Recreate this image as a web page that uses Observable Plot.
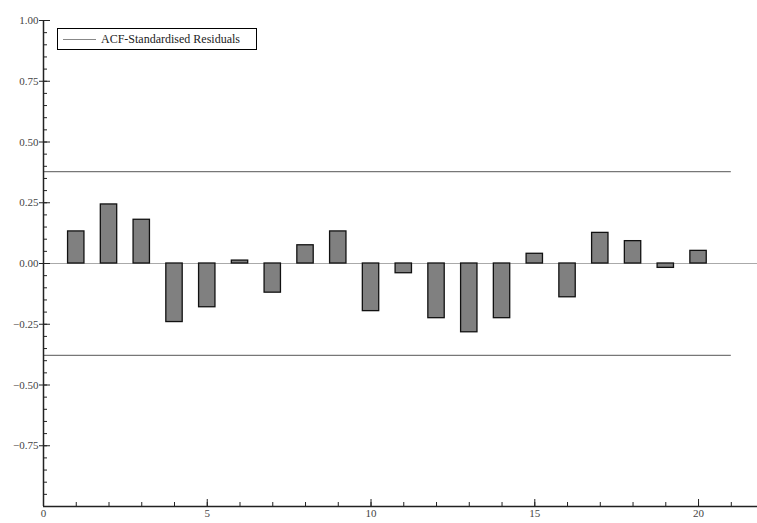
<!DOCTYPE html>
<html>
<head>
<meta charset="utf-8">
<script src="https://cdn.jsdelivr.net/npm/d3@7"></script>
<script src="https://cdn.jsdelivr.net/npm/@observablehq/plot@0.6"></script>
<style>
  html, body { margin: 0; padding: 0; background: #fff; }
  #wrap { position: relative; width: 757px; height: 523px; }
  #wrap svg, #wrap svg text { font-family: "Liberation Serif", "DejaVu Serif", serif !important; }
  #legend {
    position: absolute; left: 57px; top: 28px; width: 200px; height: 22px;
    box-sizing: border-box; border: 1px solid #000; background: #fff;
    font: 12px "Liberation Serif", "DejaVu Serif", serif; color: #222;
    display: flex; align-items: center;
  }
  #legend .sw { display: inline-block; width: 33px; height: 0; border-top: 1px solid #888; margin: 0 5px 0 5px; }
</style>
</head>
<body>
<div id="wrap"></div>
<script>
const lags = [1,2,3,4,5,6,7,8,9,10,11,12,13,14,15,16,17,18,19,20];
const acf  = [0.132,0.243,0.18,-0.241,-0.18,0.012,-0.12,0.075,0.132,-0.196,
              -0.04,-0.225,-0.283,-0.225,0.04,-0.139,0.126,0.092,-0.018,0.052];
const bandLevels = [0.378, -0.378];
const seriesName = "ACF-Standardised Residuals";
const yMajor = [-0.75,-0.5,-0.25,0,0.25,0.5,0.75,1];
const yMinor = d3.range(-20, 21).map(i => i / 20);
const xMajor = [0,5,10,15,20];
const xMinor = d3.range(0, 22);

const data = lags.map((lag, i) => ({lag, acf: acf[i]}));
const serif = "Liberation Serif, DejaVu Serif, serif";

const chart = Plot.plot({
  width: 757,
  height: 523,
  marginLeft: 43,
  marginRight: 0,
  marginTop: 20,
  marginBottom: 17,
  style: {fontFamily: serif, fontSize: "11px", color: "#333", background: "#fff"},
  x: {domain: [0, 21.8]},
  y: {domain: [-1, 1]},
  marks: [
    Plot.ruleY([0], {stroke: "#aaa", strokeWidth: 1}),
    Plot.ruleY(bandLevels, {x1: 0, x2: 21, stroke: "#777", strokeWidth: 1.2}),
    Plot.rect(data, {
      x1: d => d.lag - 0.25, x2: d => d.lag + 0.25,
      y1: 0, y2: "acf",
      fill: "#808080", stroke: "#111", strokeWidth: 1.3
    }),
    // axis lines
    Plot.ruleX([0], {stroke: "#222", strokeWidth: 1.5}),
    Plot.ruleY([-1], {stroke: "#222", strokeWidth: 1.5}),
    // y axis
    Plot.axisY({ticks: yMinor, tickSize: -4, tickFormat: () => "", label: null, stroke: "#222"}),
    Plot.axisY({ticks: yMajor, tickSize: -7, tickFormat: () => "", label: null, stroke: "#222"}),
    Plot.axisY({ticks: yMajor, tickSize: 4, tickPadding: 1, tickFormat: d3.format(".2f"), label: null, stroke: "#222", fill: "#444", fontFamily: serif, fontSize: 11}),
    // x axis
    Plot.axisX({ticks: xMinor, tickSize: -4, tickFormat: () => "", label: null, stroke: "#222"}),
    Plot.axisX({ticks: xMajor, tickSize: -7, tickFormat: () => "", label: null, stroke: "#222"}),
    Plot.axisX({ticks: xMajor, tickSize: 0, tickPadding: 3, tickFormat: d3.format("d"), label: null, fill: "#444", fontFamily: serif, fontSize: 11})
  ]
});

const wrap = document.getElementById("wrap");
wrap.appendChild(chart);
const legend = document.createElement("div");
legend.id = "legend";
legend.innerHTML = `<span class="sw"></span><span>${seriesName}</span>`;
wrap.appendChild(legend);
</script>
</body>
</html>
